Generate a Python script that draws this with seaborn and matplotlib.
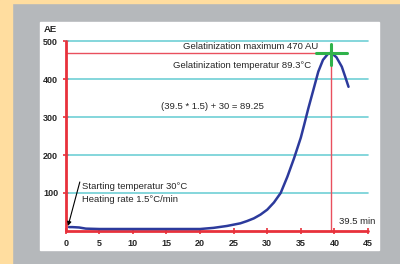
import matplotlib
matplotlib.use("Agg")
import matplotlib.pyplot as plt
import seaborn as sns
import pandas as pd
from matplotlib.patches import Rectangle

# curve (minutes, AE)
time_min = [0.5, 1, 2, 3, 5, 10, 15, 20, 22, 24, 26, 27, 28, 29, 30, 31, 32,
            33, 34, 35, 35.5, 36.1, 36.9, 37.6, 38.3, 39, 39.5, 40.3, 41.1,
            41.6, 42.1]
viscosity = [10, 10, 9, 6, 5, 5, 5, 5, 8, 13, 20, 26, 33, 43, 56, 75, 100,
             143, 192, 246, 280, 322, 374, 420, 451, 466, 470, 458, 433,
             407, 380]
x_ticks = [0, 5, 10, 15, 20, 25, 30, 35, 40, 45]
y_ticks = [100, 200, 300, 400, 500]
peak_time = 39.5
peak_value = 470

df = pd.DataFrame({"time": time_min, "AE": viscosity})

sns.set_style("white")
plt.rcParams["font.family"] = ["Liberation Sans", "DejaVu Sans"]

red = "#e8313b"
thin_red = "#e9505e"
cyan = "#6fd0d6"
blue = "#2c3a9c"
green = "#2fb24a"

fig = plt.figure(figsize=(4, 2.64), dpi=100)
fig.patch.set_facecolor("#b5b8bb")
fig.patches.append(Rectangle((0, 0), 12 / 400, 1, transform=fig.transFigure,
                             color="#ffdd9f", zorder=-5))
fig.patches.append(Rectangle((0, 1 - 3 / 264), 1, 3 / 264, transform=fig.transFigure,
                             color="#ffdd9f", zorder=-5))
fig.patches.append(Rectangle((40 / 400, 14 / 264), 339 / 400, 228 / 264,
                             transform=fig.transFigure, color="white", zorder=-5))

ax = fig.add_axes([65.7 / 400, 33.1 / 264, 302.3 / 400, 189.6 / 264])
ax.patch.set_alpha(0)
ax.set_xlim(0, 45)
ax.set_ylim(0, 500)
for s in ax.spines.values():
    s.set_visible(False)

for v in y_ticks:
    ax.plot([0, 45], [v, v], color=cyan, lw=1.2, clip_on=False, zorder=1)

ax.plot([0, 37.4], [peak_value, peak_value], color=thin_red, lw=1, zorder=2)
ax.plot([peak_time, peak_time], [0, peak_value], color=thin_red, lw=1, zorder=2)

sns.lineplot(data=df, x="time", y="AE", ax=ax, color=blue, lw=1.8, zorder=4)

ax.plot([37.3, 41.8], [peak_value, peak_value], color=green, lw=2.2, zorder=5)
ax.plot([peak_time, peak_time], [437, 493], color=green, lw=2.2, zorder=5)

ax.plot([0, 45], [0, 0], color=red, lw=2, clip_on=False, zorder=3)
ax.plot([0, 0], [0, 500], color=red, lw=2, clip_on=False, zorder=3)

ax.set_xticks(x_ticks)
ax.set_yticks(y_ticks)
ax.set_xticklabels([str(t) for t in x_ticks], fontsize=6.5, fontweight="bold")
ax.set_yticklabels([str(t) for t in y_ticks], fontsize=6.5, fontweight="bold")
ax.tick_params(axis="both", direction="inout", length=5, width=1.2, color=red,
               bottom=True, left=True, pad=3)
ax.set_xlabel("")
ax.set_ylabel("")

fs = 6.8
ax.text(-3.2, 530, "AE", fontsize=6.8, fontweight="bold", va="center", clip_on=False)
ax.text(17.4, 485, "Gelatinization maximum 470 AU", fontsize=fs, va="center")
ax.text(16.0, 437, "Gelatinization temperatur 89.3°C", fontsize=fs, va="center")
ax.text(14.2, 329, "(39.5 * 1.5) + 30 = 89.25", fontsize=fs, va="center")
ax.text(2.4, 116, "Starting temperatur 30°C", fontsize=fs, va="center")
ax.text(2.4, 84, "Heating rate 1.5°C/min", fontsize=fs, va="center")
ax.text(40.7, 26, "39.5 min", fontsize=fs, va="center", clip_on=False)
ax.annotate("", xy=(0.35, 13), xytext=(2.1, 129),
            arrowprops=dict(arrowstyle="-|>", color="black", lw=0.8,
                            mutation_scale=6, shrinkA=0, shrinkB=0))

fig.savefig("out.png", dpi=100, facecolor=fig.get_facecolor())
